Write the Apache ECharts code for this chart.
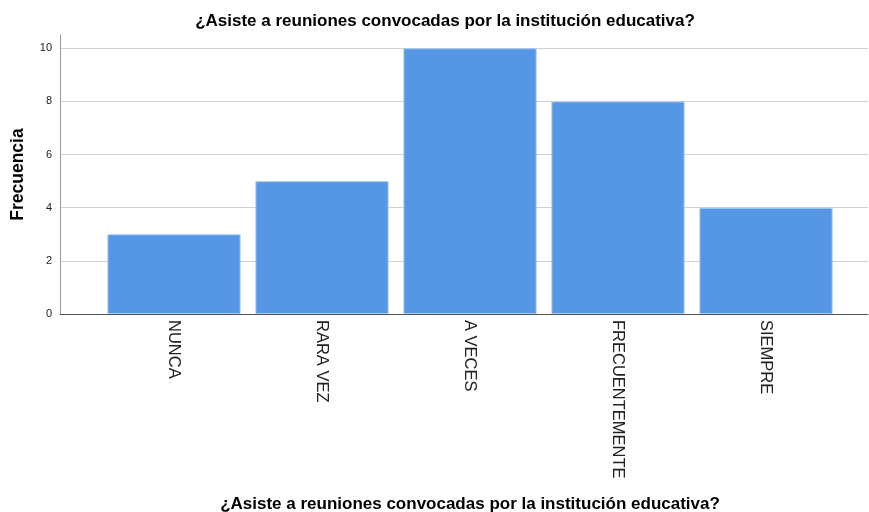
<!DOCTYPE html>
<html><head><meta charset="utf-8">
<script src="https://cdn.jsdelivr.net/npm/echarts@6/dist/echarts.min.js"></script>
<style>html,body{margin:0;padding:0;background:#fff}#c{width:869px;height:512px}</style>
</head><body><div id="c"></div>
<script>
const categories = ['NUNCA', 'RARA VEZ', 'A VECES', 'FRECUENTEMENTE', 'SIEMPRE'];
const frecuencia = [3, 5, 10, 8, 4];
const titleText = '¿Asiste a reuniones convocadas por la institución educativa?';
const yName = 'Frecuencia';

const chart = echarts.init(document.getElementById('c'));
const FONT = '"Liberation Sans", Arial, sans-serif';
chart.setOption({
  animation: false,
  title: {text: titleText, left: 440, top: 8, textAlign: 'center',
    textStyle: {fontFamily: FONT, fontSize: 17, fontWeight: 'bold', color: '#000'}},
  grid: [
    {left: 60, right: 1, top: 35, bottom: 198, outerBoundsMode: 'none', containLabel: false},
    {left: 100, width: 740, top: 35, bottom: 198, outerBoundsMode: 'none', containLabel: false}
  ],
  xAxis: [
    {gridIndex: 0, type: 'value', min: 0, max: 1, axisLabel: {show: false}, axisTick: {show: false},
     splitLine: {show: false}, axisLine: {show: true, lineStyle: {color: '#555', width: 1}},
     name: titleText, nameLocation: 'middle', nameGap: 182,
     nameTextStyle: {fontFamily: FONT, fontSize: 17, fontWeight: 'bold', color: '#000', padding: [0, 0, 0, 12]}},
    {gridIndex: 1, type: 'category', data: categories, axisLine: {show: false}, axisTick: {show: false},
     axisLabel: {rotate: -90, margin: 6, fontFamily: FONT, fontSize: 16.5, color: '#222', interval: 0}}
  ],
  yAxis: [
    {gridIndex: 0, type: 'value', min: 0, max: 10.5, interval: 2,
     axisLine: {show: true, lineStyle: {color: '#999', width: 1}}, axisTick: {show: false},
     axisLabel: {showMaxLabel: false, margin: 8, fontFamily: FONT, fontSize: 11, color: '#222'},
     splitLine: {show: true, showMaxLine: false, showMinLine: false, lineStyle: {color: '#d0d0d0', width: 1}},
     name: yName, nameLocation: 'middle', nameGap: 33,
     nameTextStyle: {fontFamily: FONT, fontSize: 17.5, fontWeight: 'bold', color: '#000'}},
    {gridIndex: 1, type: 'value', min: 0, max: 10.5, show: false}
  ],
  series: [{
    type: 'bar', xAxisIndex: 1, yAxisIndex: 1, data: frecuencia, barCategoryGap: '10%',
    itemStyle: {color: '#5596e5', borderColor: '#a9c9f0', borderWidth: 1}
  }]
});
</script></body></html>
